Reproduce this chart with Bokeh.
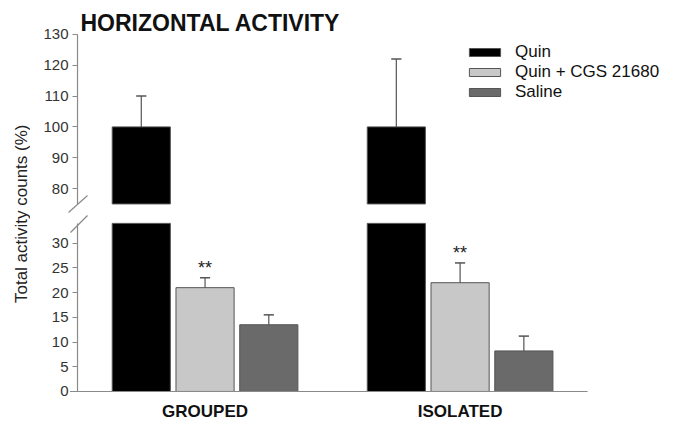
from math import pi
from bokeh.plotting import figure
from bokeh.layouts import row, column
from bokeh.models import (ColumnDataSource, Range1d, FixedTicker, Arrow, CDSView,
                          BooleanFilter, Label)
from bokeh.transform import dodge
from bokeh.core.properties import value
from bokeh.embed import file_html
from bokeh.resources import INLINE

# ---------------- data ----------------
title_text = "HORIZONTAL ACTIVITY"
y_label = "Total activity counts (%)"
groups = ["GROUPED", "ISOLATED"]
series_names = ["Quin", "Quin + CGS 21680", "Saline"]
quin = [100, 100]
quin_err = [110, 122]
cgs = [21, 22]
cgs_err = [23, 26]
saline = [13.5, 8.2]
saline_err = [15.5, 11.2]
cgs_sig = ["**", "**"]
lower_ticks = [0, 5, 10, 15, 20, 25, 30]
upper_ticks = [80, 90, 100, 110, 120, 130]

# ---------------- axis break / layout ----------------
LOW_AXIS = (0, 34)       # lower segment of the broken y axis
UP_AXIS = (75, 130)      # upper segment of the broken y axis
LOW_RANGE = (-6.68, 36.0)
UP_RANGE = (71.9, 141.0)
X_RANGE = (-0.153, 2.325)
X_AXIS_EXTENT = (-0.03, 2.0)

FONT = value("Liberation Sans")
colors = ["#000000", "#c8c8c8", "#6a6a6a"]
offsets = [-0.25, 0.0, 0.25]
BAR_W = 0.228
CAP = 0.02
AXIS_C = "#8a8a8a"
ERR_C = "#555555"
LAB_W = 30
MAIN_W = 640

centers = [i + 0.5 for i in range(len(groups))]
vals = [quin, cgs, saline]
errs = [quin_err, cgs_err, saline_err]
sources = []
for v, e in zip(vals, errs):
    sources.append(ColumnDataSource(dict(
        x=centers, val=v, err=e,
        low_top=[min(a, LOW_AXIS[1]) for a in v],
    )))

xr = Range1d(*X_RANGE)


def panel(yr, ticks, axis_extent, h, show_x, is_upper):
    p = figure(width=MAIN_W, height=h, x_range=xr, y_range=Range1d(*yr),
               output_backend="svg", toolbar_location=None,
               min_border_left=8, min_border_right=0,
               min_border_top=0, min_border_bottom=0,
               x_axis_location="below" if show_x else None)
    p.outline_line_color = None
    p.grid.visible = False
    p.background_fill_color = "white"
    p.border_fill_color = "white"
    for src, c, off, name in zip(sources, colors, offsets, series_names):
        # lower-segment bars (in the upper panel they lie below its range and
        # only serve the legend)
        kw = dict(legend_label=name) if is_upper else {}
        p.vbar(x=dodge("x", off), top="low_top", bottom=0, width=BAR_W,
               source=src, fill_color=c, line_color="#555555", line_width=1, **kw)
        if is_upper:
            mask = [a > UP_AXIS[0] for a in src.data["val"]]
            p.vbar(x=dodge("x", off), top="val", bottom=UP_AXIS[0], width=BAR_W,
                   source=src, view=CDSView(filter=BooleanFilter(mask)),
                   fill_color=c, line_color="#555555", line_width=1)
        p.segment(x0=dodge("x", off), y0="val", x1=dodge("x", off), y1="err",
                  source=src, line_color=ERR_C, line_width=1.2)
        p.segment(x0=dodge("x", off - CAP), y0="err", x1=dodge("x", off + CAP), y1="err",
                  source=src, line_color=ERR_C, line_width=1.5)
    # y-axis rule restricted to this segment of the broken axis
    p.segment(x0=[0], y0=[axis_extent[0]], x1=[0], y1=[axis_extent[1]],
              line_color=AXIS_C, line_width=1.2)
    ax = p.yaxis[0]
    ax.fixed_location = 0
    ax.ticker = FixedTicker(ticks=ticks)
    ax.axis_line_color = None
    ax.major_tick_line_color = AXIS_C
    ax.major_tick_out = 5
    ax.major_tick_in = 0
    ax.minor_tick_line_color = None
    ax.major_label_text_font = "Liberation Sans"
    ax.major_label_text_font_size = "15px"
    ax.major_label_text_color = "#333333"
    ax.major_label_standoff = 4
    return p


upper = panel(UP_RANGE, upper_ticks, UP_AXIS, 213, False, True)
lower = panel(LOW_RANGE, lower_ticks, LOW_AXIS, 211, True, False)

# title
upper.add_layout(Label(x=42, y=191, x_units="screen", y_units="screen",
                       text=title_text, text_font="Liberation Sans",
                       text_font_size="23px", text_font_style="bold",
                       text_color="#111111", text_baseline="alphabetic"))

# legend
lg = upper.legend[0]
lg.location = (427, 111)
lg.border_line_color = None
lg.background_fill_alpha = 0
lg.padding = 0
lg.margin = 0
lg.spacing = 0
lg.glyph_width = 39
lg.glyph_height = 10
lg.label_height = 20
lg.label_standoff = 11
lg.label_text_font = "Liberation Sans"
lg.label_text_font_size = "17px"
lg.label_text_color = "#111111"

# x axis of lower panel
lower.segment(x0=[X_AXIS_EXTENT[0]], y0=[0], x1=[X_AXIS_EXTENT[1]], y1=[0],
              line_color=AXIS_C, line_width=1.2)
xa = lower.xaxis[0]
xa.fixed_location = 0
xa.ticker = FixedTicker(ticks=centers)
xa.major_label_overrides = {c: g for c, g in zip(centers, groups)}
xa.axis_line_color = None
xa.major_tick_line_color = None
xa.major_tick_out = 0
xa.minor_tick_line_color = None
xa.major_label_text_font = "Liberation Sans"
xa.major_label_text_font_size = "17px"
xa.major_label_text_font_style = "bold"
xa.major_label_text_color = "#111111"
xa.major_label_standoff = 11

# significance marks
sig_src = ColumnDataSource(dict(x=centers, y=[e + 2.0 for e in cgs_err], t=cgs_sig))
lower.text(x=dodge("x", 0.0), y="y", text="t", source=sig_src,
           text_align="center", text_baseline="alphabetic", text_font=FONT,
           text_font_size="18px", text_color="#222222")

# axis break marks (screen offsets from the frame's bottom-left corner)
upper.add_layout(Arrow(end=None, x_start=30, y_start=1, x_end=49, y_end=18,
                       start_units="screen", end_units="screen",
                       line_color=AXIS_C, line_width=1.2))
lower.add_layout(Arrow(end=None, x_start=32, y_start=192, x_end=49, y_end=209,
                       start_units="screen", end_units="screen",
                       line_color=AXIS_C, line_width=1.2))

# y-axis label column
lab = figure(width=LAB_W, height=424, x_range=Range1d(0, 1), y_range=Range1d(0, 1),
             output_backend="svg", toolbar_location=None, min_border=0,
             x_axis_location=None, y_axis_location=None)
lab.outline_line_color = None
lab.grid.visible = False
lab.text(x=[0.7], y=[0.497], text=[y_label], angle=pi / 2, text_align="center",
         text_baseline="middle", text_font=FONT, text_font_size="17px",
         text_color="#222222")

layout = row(lab, column(upper, lower))
open("out.html", "w").write(file_html(layout, INLINE))
